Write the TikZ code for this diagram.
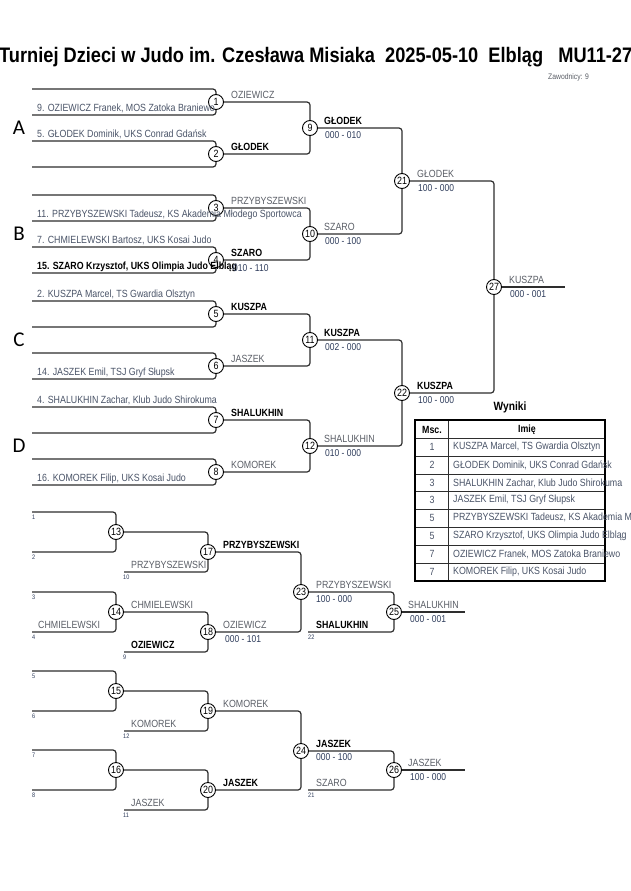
\documentclass[tikz,border=0pt]{standalone}
\usepackage{fontspec}
\setmainfont[FakeStretch=0.85]{Liberation Sans}
\newfontfamily\letterfont{Carlito}
\usepackage{graphicx}
\usetikzlibrary{backgrounds}
\definecolor{lnc}{HTML}{2E2E2E}
\definecolor{namec}{HTML}{5A5E66}
\definecolor{scorec}{HTML}{2F3D5C}
\definecolor{entc}{HTML}{4A5468}
\begin{document}
\begin{tikzpicture}[x=1pt,y=-1pt,
 br/.style={draw=lnc, line width=1.2pt, rounded corners=3pt},
 mt/.style={circle, draw=black, fill=white, line width=0.9pt, minimum size=15pt, inner sep=0pt, font=\fontsize{10.5}{10}\selectfont},
 ent/.style={anchor=base west, inner sep=0pt, text=entc, font=\fontsize{10.4}{10}\selectfont},
 entb/.style={anchor=base west, inner sep=0pt, text=black, font=\fontsize{10.4}{10}\selectfont\bfseries},
 nm/.style={anchor=base west, inner sep=0pt, text=namec, font=\fontsize{10.4}{10}\selectfont},
 nmb/.style={anchor=base west, inner sep=0pt, text=black, font=\fontsize{10.4}{10}\selectfont\bfseries},
 sc/.style={anchor=base west, inner sep=0pt, text=scorec, font=\fontsize{10}{10}\selectfont},
 tiny/.style={anchor=base west, inner sep=0pt, text=scorec, font=\fontsize{6.5}{6}\selectfont},
 pool/.style={inner sep=0pt, font=\letterfont\fontsize{21}{21}\selectfont},
 tnum/.style={inner sep=0pt, text=entc, font=\fontsize{10.4}{10}\selectfont},
 tname/.style={inner sep=0pt, text=entc, font=\fontsize{10.4}{10}\selectfont},
 thead/.style={inner sep=0pt, text=black, font=\fontsize{10.4}{10}\selectfont\bfseries},
]
\useasboundingbox (0,0) rectangle (630,891);

% title
\node[anchor=base west, inner sep=0pt] (title) at (-1,63) {\resizebox{633pt}{\height}{\fontsize{21}{22}\selectfont\bfseries Turniej Dzieci w Judo im. Czesława Misiaka\ \ 2025-05-10\ \ Elbląg\ \ \ MU11-27}};
\node[anchor=base west, inner sep=0pt, text=namec, font=\fontsize{8}{8}\selectfont] (zaw) at (548,79) {Zawodnicy: 9};

% pool letters
\node[pool] (pA) at (19,128) {A};
\node[pool] (pB) at (19,234) {B};
\node[pool] (pC) at (19,340) {C};
\node[pool] (pD) at (19,446) {D};

% upper bracket matches
\node[mt] (m1) at (216,102) {1};
\node[mt] (m2) at (216,154) {2};
\node[mt] (m3) at (216,208) {3};
\node[mt] (m4) at (216,260) {4};
\node[mt] (m5) at (216,314) {5};
\node[mt] (m6) at (216,366) {6};
\node[mt] (m7) at (216,420) {7};
\node[mt] (m8) at (216,472) {8};
\node[mt] (m9) at (310,128) {9};
\node[mt] (m10) at (310,234) {10};
\node[mt] (m11) at (310,340) {11};
\node[mt] (m12) at (310,446) {12};
\node[mt] (m21) at (402,181) {21};
\node[mt] (m22) at (402,393) {22};
\node[mt] (m27) at (494,287) {27};

% lower bracket matches
\node[mt] (m13) at (116,532) {13};
\node[mt] (m14) at (116,612) {14};
\node[mt] (m15) at (116,691) {15};
\node[mt] (m16) at (116,770) {16};
\node[mt] (m17) at (208,552) {17};
\node[mt] (m18) at (208,632) {18};
\node[mt] (m19) at (208,711) {19};
\node[mt] (m20) at (208,790) {20};
\node[mt] (m23) at (301,592) {23};
\node[mt] (m24) at (301,751) {24};
\node[mt] (m25) at (394,612) {25};
\node[mt] (m26) at (394,770) {26};

% coordinates
\foreach \k/\y in {1/102,2/154,3/208,4/260,5/314,6/366,7/420,8/472}{
  \coordinate (a\k) at (32,\y-13);
  \coordinate (b\k) at (32,\y+13);
}
\coordinate (f27) at (565,287);
\coordinate (s1) at (32,512); \coordinate (s2) at (32,552);
\coordinate (s3) at (32,592); \coordinate (s4) at (32,632);
\coordinate (s5) at (32,671); \coordinate (s6) at (32,711);
\coordinate (s7) at (32,750); \coordinate (s8) at (32,790);
\coordinate (s10) at (124,572); \coordinate (s9) at (124,652);
\coordinate (s12) at (124,731); \coordinate (s11) at (124,810);
\coordinate (s22) at (308,632); \coordinate (s21) at (308,790);
\coordinate (o25) at (465,612); \coordinate (o26) at (465,770);

\begin{scope}[on background layer]
\fill[white] (0,0) rectangle (630,891);
\foreach \k in {1,...,8}{
  \draw[br] (a\k) -| (m\k.center) |- (b\k);
}
\draw[br] (m1.center) -| (m9.center) |- (m2.center);
\draw[br] (m3.center) -| (m10.center) |- (m4.center);
\draw[br] (m5.center) -| (m11.center) |- (m6.center);
\draw[br] (m7.center) -| (m12.center) |- (m8.center);
\draw[br] (m9.center) -| (m21.center) |- (m10.center);
\draw[br] (m11.center) -| (m22.center) |- (m12.center);
\draw[br] (m21.center) -| (m27.center) |- (m22.center);
\draw[br] (m27.center) -- (f27);

\draw[br] (s1) -| (m13.center) |- (s2);
\draw[br] (s3) -| (m14.center) |- (s4);
\draw[br] (s5) -| (m15.center) |- (s6);
\draw[br] (s7) -| (m16.center) |- (s8);
\draw[br] (m13.center) -| (m17.center) |- (s10);
\draw[br] (m14.center) -| (m18.center) |- (s9);
\draw[br] (m15.center) -| (m19.center) |- (s12);
\draw[br] (m16.center) -| (m20.center) |- (s11);
\draw[br] (m17.center) -| (m23.center) |- (m18.center);
\draw[br] (m19.center) -| (m24.center) |- (m20.center);
\draw[br] (m23.center) -| (m25.center) |- (s22);
\draw[br] (m24.center) -| (m26.center) |- (s21);
\draw[br] (m25.center) -- (o25);
\draw[br] (m26.center) -- (o26);
\end{scope}

% entrants
\node[ent] (e1) at (37,111) {9. OZIEWICZ Franek, MOS Zatoka Braniewo};
\node[ent] (e2) at (37,137) {5. GŁODEK Dominik, UKS Conrad Gdańsk};
\node[ent] (e3) at (37,217) {11. PRZYBYSZEWSKI Tadeusz, KS Akademia Młodego Sportowca};
\node[ent] (e4) at (37,243) {7. CHMIELEWSKI Bartosz, UKS Kosai Judo};
\node[entb] (e5) at (37,269) {15. SZARO Krzysztof, UKS Olimpia Judo Elbląg};
\node[ent] (e6) at (37,297) {2. KUSZPA Marcel, TS Gwardia Olsztyn};
\node[ent] (e7) at (37,375) {14. JASZEK Emil, TSJ Gryf Słupsk};
\node[ent] (e8) at (37,403) {4. SHALUKHIN Zachar, Klub Judo Shirokuma};
\node[ent] (e9) at (37,481) {16. KOMOREK Filip, UKS Kosai Judo};

% round 2 labels
\node[nm] (w1) at (231,98) {OZIEWICZ};
\node[nmb] (w2) at (231,150) {GŁODEK};
\node[nm] (w3) at (231,204) {PRZYBYSZEWSKI};
\node[nmb] (w4) at (231,256) {SZARO};
\node[sc] (w4s) at (233,271) {010 - 110};
\node[nmb] (w5) at (231,310) {KUSZPA};
\node[nm] (w6) at (231,362) {JASZEK};
\node[nmb] (w7) at (231,416) {SHALUKHIN};
\node[nm] (w8) at (231,468) {KOMOREK};

% round 3 labels
\node[nmb] (w9) at (324,124) {GŁODEK};
\node[sc] (w9s) at (325,138) {000 - 010};
\node[nm] (w10) at (324,230) {SZARO};
\node[sc] (w10s) at (325,244) {000 - 100};
\node[nmb] (w11) at (324,336) {KUSZPA};
\node[sc] (w11s) at (325,350) {002 - 000};
\node[nm] (w12) at (324,442) {SHALUKHIN};
\node[sc] (w12s) at (325,456) {010 - 000};

% round 4 labels
\node[nm] (w21) at (417,177) {GŁODEK};
\node[sc] (w21s) at (418,191) {100 - 000};
\node[nmb] (w22) at (417,389) {KUSZPA};
\node[sc] (w22s) at (418,403) {100 - 000};
\node[nm] (w27) at (509,283) {KUSZPA};
\node[sc] (w27s) at (510,297) {000 - 001};

% lower labels
\foreach \k/\y in {1/512,2/552,3/592,4/632,5/671,6/711,7/750,8/790}{
  \node[tiny] (n\k) at (32,\y+7) {\k};
}
\node[tiny] (n10) at (123,579) {10};
\node[tiny] (n9) at (123,659) {9};
\node[tiny] (n12) at (123,738) {12};
\node[tiny] (n11) at (123,817) {11};
\node[tiny] (n22) at (308,639) {22};
\node[tiny] (n21) at (308,797) {21};

\node[nm] (x10) at (131,568) {PRZYBYSZEWSKI};
\node[nm] (x14) at (131,608) {CHMIELEWSKI};
\node[nm] (x4) at (38,628) {CHMIELEWSKI};
\node[nmb] (x9) at (131,648) {OZIEWICZ};
\node[nmb] (x17) at (223,548) {PRZYBYSZEWSKI};
\node[nm] (x18) at (223,628) {OZIEWICZ};
\node[sc] (x18s) at (225,642) {000 - 101};
\node[nm] (x23) at (316,588) {PRZYBYSZEWSKI};
\node[sc] (x23s) at (316,602) {100 - 000};
\node[nmb] (x22) at (316,628) {SHALUKHIN};
\node[nm] (x25) at (408,608) {SHALUKHIN};
\node[sc] (x25s) at (410,622) {000 - 001};

\node[nm] (x19) at (223,707) {KOMOREK};
\node[nm] (x12) at (131,727) {KOMOREK};
\node[nmb] (x20) at (223,786) {JASZEK};
\node[nm] (x11) at (131,806) {JASZEK};
\node[nmb] (x24) at (316,747) {JASZEK};
\node[sc] (x24s) at (316,760) {000 - 100};
\node[nm] (x21) at (316,786) {SZARO};
\node[nm] (x26) at (408,766) {JASZEK};
\node[sc] (x26s) at (410,780) {100 - 000};

% results table
\node[inner sep=0pt, font=\fontsize{12}{12}\selectfont\bfseries] (wyn) at (510,407) {Wyniki};
\foreach \i/\y in {1/438,2/456,3/474,4/491,5/509,6/527,7/545,8/563}{
  \draw[lnc, line width=0.8pt] (415,\y) -- (605,\y);
}
\draw[lnc, line width=0.8pt] (448,420) -- (448,581);
\draw[black, line width=1.8pt] (415,420) rectangle (605,581);
\node[thead] (h1) at (432,429.5) {Msc.};
\node[thead] (h2) at (527,429.5) {Imię};
\foreach \i/\y/\p/\t in {
 1/447/1/{KUSZPA Marcel, TS Gwardia Olsztyn},
 2/465/2/{GŁODEK Dominik, UKS Conrad Gdańsk},
 3/483/3/{SHALUKHIN Zachar, Klub Judo Shirokuma},
 4/500/3/{JASZEK Emil, TSJ Gryf Słupsk},
 5/518/5/{PRZYBYSZEWSKI Tadeusz, KS Akademia Młodego Sportowca},
 6/536/5/{SZARO Krzysztof, UKS Olimpia Judo Elbląg},
 7/554/7/{OZIEWICZ Franek, MOS Zatoka Braniewo},
 8/572/7/{KOMOREK Filip, UKS Kosai Judo}}{
  \node[tnum] (tp\i) at (432,\y) {\p};
  \node[tname, anchor=west] (tn\i) at (453,\y) {\t};
}
\end{tikzpicture}
\end{document}
